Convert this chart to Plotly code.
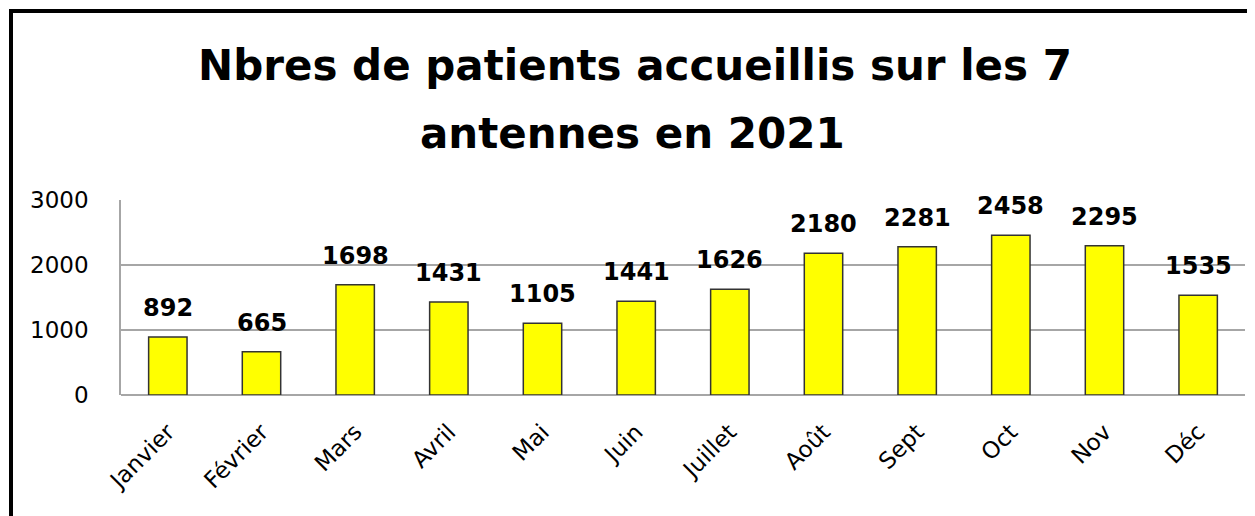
import plotly.graph_objects as go

months = ["Janvier", "Février", "Mars", "Avril", "Mai", "Juin", "Juillet",
          "Août", "Sept", "Oct", "Nov", "Déc"]
patients = [892, 665, 1698, 1431, 1105, 1441, 1626, 2180, 2281, 2458, 2295, 1535]
y_ticks = [0, 1000, 2000, 3000]
title_line1 = "Nbres de patients accueillis sur les 7"
title_line2 = "antennes en 2021"

FONT = "Comic Sans MS, DejaVu Sans, sans-serif"

W, H = 1247, 508          # page has an 8px body margin
L, R, T, B = 113, 10, 192, 121
plot_w = W - L - R
plot_h = H - T - B

fig = go.Figure()
fig.add_trace(go.Bar(
    x=months, y=patients,
    marker=dict(color="#FFFF00", line=dict(color="#333333", width=1.5)),
    width=0.41,
    hoverinfo="x+y",
))

for m, v in zip(months, patients):
    fig.add_annotation(x=m, y=v, text=f"<b>{v}</b>", showarrow=False,
                       yanchor="middle", yshift=29,
                       font=dict(family=FONT, size=24, color="black"))

fig.add_annotation(text=f"<b>{title_line2}</b>", showarrow=False,
                   xref="paper", yref="paper",
                   x=(624 - L) / plot_w, y=(H - B - 125.5) / plot_h,
                   xanchor="center", yanchor="middle",
                   font=dict(family=FONT, size=42, color="black"))

fig.update_layout(
    width=W, height=H,
    margin=dict(l=L, r=R, t=T, b=B),
    paper_bgcolor="white", plot_bgcolor="white",
    showlegend=False,
    title=dict(text=f"<b>{title_line1}</b>",
               x=627 / W, xref="container", xanchor="center",
               y=1 - 57 / H, yref="container", yanchor="middle",
               font=dict(family=FONT, size=42, color="black")),
    xaxis=dict(tickangle=-45, tickfont=dict(family=FONT, size=23, color="black"),
               showgrid=False, ticks="", ticklabelstandoff=18,
               showline=False),
    yaxis=dict(range=[0, 3000], tickvals=y_ticks,
               tickfont=dict(family=FONT, size=23, color="black"),
               showgrid=True, gridcolor="#A6A6A6", gridwidth=1.5,
               showline=True, linecolor="#A6A6A6", linewidth=1.5,
               zeroline=True, zerolinecolor="#A6A6A6", zerolinewidth=1.5,
               ticklabelstandoff=26),
    shapes=[dict(type="rect", xref="paper", yref="paper",
                 x0=(3 - L) / plot_w, x1=1.05,
                 y0=-0.7, y1=(H - B - 3) / plot_h,
                 line=dict(color="black", width=4), layer="below")],
)

fig.write_html("out.html")
